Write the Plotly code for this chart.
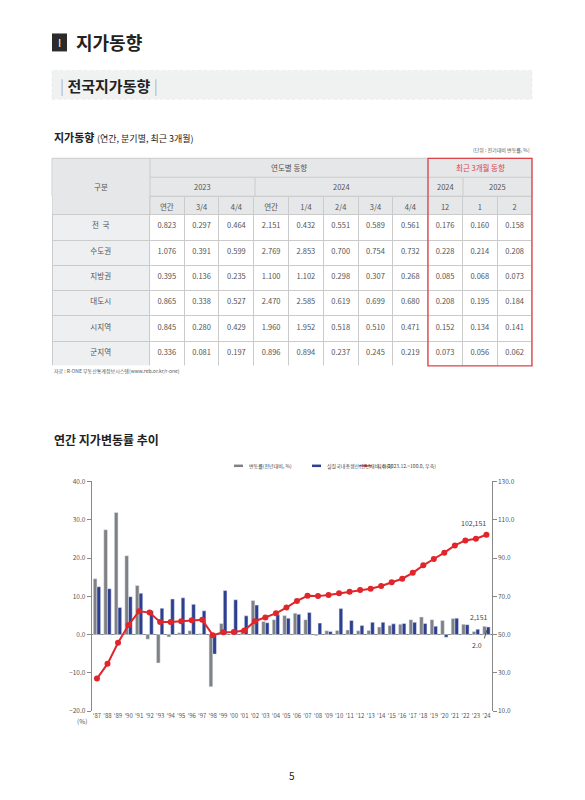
import plotly.graph_objects as go

W, H = 585, 800
def px(x): return (x - 8) / W
def py(y): return 1 - ((y - 13.5) / 0.989) / H

years = ["'87","'88","'89","'90","'91","'92","'93","'94","'95","'96","'97","'98","'99","'00","'01","'02","'03","'04","'05","'06","'07",
         "'08","'09","'10","'11","'12","'13","'14","'15","'16","'17","'18","'19","'20","'21","'22","'23","'24"]
land_change = [14.6,27.4,31.9,20.6,12.8,-1.2,-7.4,-0.6,0.5,1.0,0.3,-13.6,2.9,0.1,1.3,8.9,3.4,3.9,5.0,5.6,3.9,
               -0.3,1.0,1.1,1.2,1.0,1.1,2.0,2.4,2.7,3.9,4.6,3.9,3.7,4.2,2.7,0.8,2.151]
gdp_growth = [12.5,12.0,7.1,9.9,10.8,6.2,6.9,9.3,9.6,7.9,6.2,-5.1,11.5,9.1,4.9,7.7,3.1,5.2,4.3,5.3,5.8,
              3.0,0.8,6.8,3.7,2.4,3.2,3.2,2.8,2.9,3.2,2.9,2.2,-0.7,4.3,2.6,1.4,2.0]
land_index = [27.0,34.7,45.7,55.0,62.2,61.5,56.6,56.6,57.0,57.5,57.7,49.7,51.2,51.4,52.1,57.0,58.9,61.1,64.1,67.6,70.3,
              70.1,70.7,71.6,72.4,73.3,74.0,75.4,77.3,79.2,82.3,86.2,89.5,92.8,96.6,99.2,100.1,102.151]

table_rows = ["전  국","수도권","지방권","대도시","시지역","군지역"]
col_labels = ["연간","3/4","4/4","연간","1/4","2/4","3/4","4/4","12","1","2"]
table_vals = [
    ["0.823","0.297","0.464","2.151","0.432","0.551","0.589","0.561","0.176","0.160","0.158"],
    ["1.076","0.391","0.599","2.769","2.853","0.700","0.754","0.732","0.228","0.214","0.208"],
    ["0.395","0.136","0.235","1.100","1.102","0.298","0.307","0.268","0.085","0.068","0.073"],
    ["0.865","0.338","0.527","2.470","2.585","0.619","0.699","0.680","0.208","0.195","0.184"],
    ["0.845","0.280","0.429","1.960","1.952","0.518","0.510","0.471","0.152","0.134","0.141"],
    ["0.336","0.081","0.197","0.896","0.894","0.237","0.245","0.219","0.073","0.056","0.062"],
]

KR = "Noto Sans CJK KR"
GRAY_H = "#e6e7e8"
LINE = "#cbcbcb"
RED = "#d9454b"
C_GRAY, C_BLUE, C_RED = "#7f8184", "#2e3f8f", "#e0262b"

fig = go.Figure()

cols = [table_rows] + [[r[i] for r in table_vals] for i in range(11)]
fig.add_trace(go.Table(
    domain=dict(x=[px(52), px(532)], y=[py(366), py(196)]),
    columnwidth=[98] + [35] * 11,
    header=dict(values=[""] + col_labels, fill_color=GRAY_H, line_color=LINE,
                font=dict(family=KR, size=7.5, color="#555"), align="center", height=18.5),
    cells=dict(values=cols, fill_color=[["#eeeff0"] * 6] + [["white"] * 6] * 11, line_color=LINE,
               font=dict(family=KR, size=7.5, color="#555"), align="center", height=25.3),
))

fig.add_trace(go.Bar(x=years, y=land_change, name="변동률(전년대비, %)", marker_color=C_GRAY,
                     xaxis="x", yaxis="y", showlegend=False))
fig.add_trace(go.Bar(x=years, y=gdp_growth, name="실질국내총생산(전년대비, 좌축)", marker_color=C_BLUE,
                     xaxis="x", yaxis="y", showlegend=False))
fig.add_trace(go.Scatter(x=years, y=land_index, name="지수(2023.12.=100.0, 우축)", mode="lines+markers",
                         line=dict(color=C_RED, width=2), marker=dict(size=6, color=C_RED),
                         xaxis="x", yaxis="y2", showlegend=False))

def line(x0, y0, x1, y1, color=LINE, width=1):
    return dict(type="line", xref="paper", yref="paper", x0=px(x0), x1=px(x1), y0=py(y0), y1=py(y1),
                line=dict(color=color, width=width))

shapes = [
    dict(type="rect", xref="paper", yref="paper", x0=px(52), x1=px(67), y0=py(51), y1=py(33),
         fillcolor="#2b2b2b", line_width=0),
    dict(type="rect", xref="paper", yref="paper", x0=px(52), x1=px(532), y0=py(99), y1=py(70),
         fillcolor="#f0f1f1", line=dict(color="#e3e3e3", width=0.5, dash="dot")),
    dict(type="rect", xref="paper", yref="paper", x0=px(52), x1=px(532), y0=py(196), y1=py(158),
         fillcolor=GRAY_H, line=dict(color=LINE, width=1)),
    dict(type="rect", xref="paper", yref="paper", x0=px(52.5), x1=px(149.5), y0=py(213), y1=py(159),
         fillcolor=GRAY_H, line_width=0),
]
for (x0, y0, x1, y1) in [(150, 177, 532, 177), (150, 158, 150, 214), (255, 177, 255, 196),
                         (428, 158, 428, 196), (463, 177, 463, 196)]:
    shapes.append(line(x0, y0, x1, y1))
shapes.append(dict(type="rect", xref="paper", yref="paper", x0=px(428), x1=px(532), y0=py(366), y1=py(158),
                   line=dict(color=RED, width=1.3)))
shapes.append(dict(type="line", xref="x", yref="y", x0=37.05, x1=36.8, y0=1.2, y1=-1.0,
                   line=dict(color="#333", width=0.8)))
# manual legend
shapes.append(line(234, 466, 243, 466, C_GRAY, 2.5))
shapes.append(line(312, 466, 321, 466, C_BLUE, 2.5))
shapes.append(line(359, 466, 372, 466, C_RED, 1.2))
shapes.append(dict(type="circle", xref="paper", yref="paper", x0=px(364), x1=px(367), y0=py(467.5), y1=py(464.5),
                   fillcolor=C_RED, line_width=0))

def ann(x, y, text, size, color="#222", anchor="left", bold=False):
    if bold:
        text = "<b>" + text + "</b>"
    return dict(x=px(x), y=py(y), xref="paper", yref="paper", text=text, showarrow=False,
                xanchor=anchor, yanchor="middle", font=dict(family=KR, size=size, color=color))

anns = [
    ann(59.5, 42, "I", 11, "white", "center"),
    ann(74, 42, "지가동향", 18, "#222", bold=True),
    ann(58, 85, "<span style='color:#b9b9b9'>|</span> <b>전국지가동향</b> <span style='color:#b9b9b9'>|</span>", 15),
    ann(52, 137, "<b>지가동향</b> <span style='font-size:9px'>(연간, 분기별, 최근 3개월)</span>", 11),
    ann(532, 150, "(단위 : 전기대비 변동률, %)", 5, "#555", "right"),
    ann(101, 186, "구분", 7.5, "#555", "center"),
    ann(289, 167.5, "연도별 동향", 7.5, "#555", "center"),
    ann(480, 167.5, "최근 3개월 동향", 7.5, RED, "center"),
    ann(202, 186.5, "2023", 7.5, "#555", "center"),
    ann(341, 186.5, "2024", 7.5, "#555", "center"),
    ann(445, 186.5, "2024", 7.5, "#555", "center"),
    ann(497, 186.5, "2025", 7.5, "#555", "center"),
    ann(52, 371, "자료 : R-ONE 부동산통계정보시스템(www.reb.or.kr/r-one)", 5, "#555"),
    ann(52, 440, "연간 지가변동률 추이", 12, "#222", bold=True),
    ann(247, 466, "변동률(전년대비, %)", 5, "#444"),
    ann(325, 466, "실질국내총생산(전년대비, 좌축)", 5, "#444"),
    ann(375, 466, "지수(2023.12.=100.0, 우축)", 5, "#444"),
    ann(82, 722, "(%)", 6.5, "#555", "center"),
    ann(292, 776, "5", 10, "#222", "center"),
    dict(x=years[-1], y=land_index[-1], xref="x", yref="y2", text="102,151", showarrow=False,
         yanchor="bottom", xanchor="right", xshift=2, yshift=5, font=dict(family=KR, size=7, color="#444")),
    dict(x=years[-1], y=land_change[-1], xref="x", yref="y", text="2,151", showarrow=False,
         yanchor="bottom", xanchor="right", xshift=4, yshift=2, font=dict(family=KR, size=7, color="#444")),
    dict(x=years[-2], y=-1.0, xref="x", yref="y", text="2.0", showarrow=False,
         yanchor="top", xanchor="left", xshift=-6, font=dict(family=KR, size=7, color="#444")),
]

tickfont = dict(family=KR, size=6.5, color="#555")
fig.update_layout(
    width=W, height=H, margin=dict(l=0, r=0, t=0, b=0),
    paper_bgcolor="white", plot_bgcolor="white",
    barmode="group", bargap=0.3, bargroupgap=0,
    shapes=shapes, annotations=anns, showlegend=False,
    xaxis=dict(domain=[px(91.7), px(491.7)], anchor="y", showgrid=False, showline=False,
               ticks="", tickfont=dict(family=KR, size=6, color="#555"), tickangle=0, range=[-0.5, 37.5]),
    yaxis=dict(domain=[py(711.7), py(481.7)], range=[-20, 40], dtick=10, tickformat=".1f",
               showgrid=False, showline=True, linecolor="#888", linewidth=1, ticks="outside",
               ticklen=4, tickcolor="#888", tickfont=tickfont, zeroline=True, zerolinecolor="#888",
               zerolinewidth=1),
    yaxis2=dict(overlaying="y", side="right", anchor="x", range=[10, 130], tick0=10, dtick=20, tickformat=".1f",
                showgrid=False, showline=True, linecolor="#888", linewidth=1, ticks="outside",
                ticklen=4, tickcolor="#888", tickfont=tickfont, zeroline=False),
)
fig.write_html("out.html")
